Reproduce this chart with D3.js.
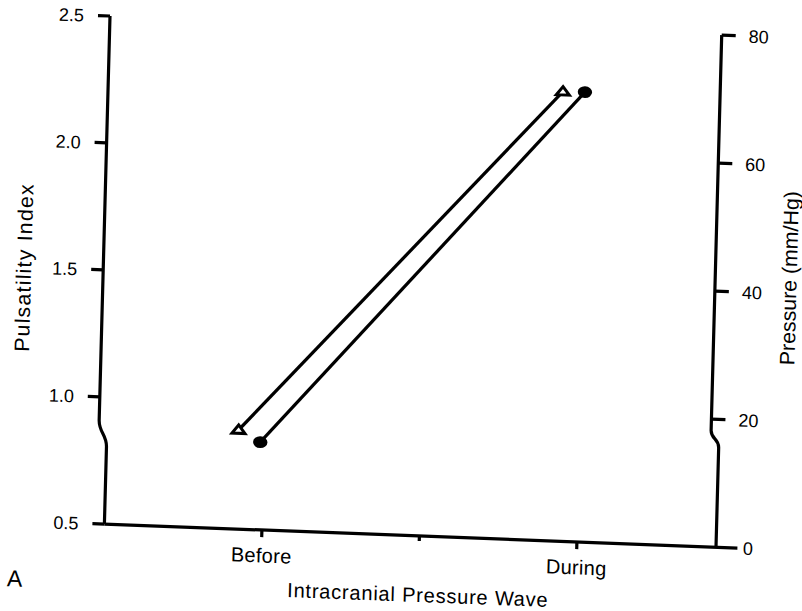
<!DOCTYPE html>
<html>
<head>
<meta charset="utf-8">
<script src="https://cdn.jsdelivr.net/npm/d3@7"></script>
<style>
  html, body { margin: 0; padding: 0; background: #fff; }
  svg { display: block; }
  text { font-family: "Liberation Sans", Arial, Helvetica, sans-serif; fill: #000; }
</style>
</head>
<body>
<svg id="chart" width="802" height="611"></svg>
<script>
// ---- data ----
const categories = ["Before", "During"];
const pulsatilityIndex = [0.89, 2.27];   // open triangles, left axis
const pressure = [13.7, 70.3];            // filled circles, right axis
const leftTicks = [0.5, 1.0, 1.5, 2.0, 2.5];
const leftTickLabels = ["0.5", "1.0", "1.5", "2.0", "2.5"];
const rightTicks = [0, 20, 40, 60, 80];
const rightTickLabels = ["0", "20", "40", "60", "80"];

// ---- layout (nominal frame, skewed like the scanned figure) ----
const svg = d3.select("#chart");
const g = svg.append("g").attr("transform", "matrix(1,0.038,-0.0272,1.0154,110,16)");

const W = 611.6;           // right axis position (upper segment)
const jog = 8;             // axis-break shift of lower segments
const base = 500;          // x-axis level

const x = d3.scalePoint().domain(categories).range([8, 638]).padding(0.5);
const yL = d3.scaleLinear().domain([0.5, 2.5]).range([base, 0]);
const yR = d3.scaleLinear().domain([0, 80]).range([base, -4]);

const ink = "#000";
const axW = 3.2;

// left axis with break
const lBreakTop = 398, lBreakBot = 424;
g.append("path")
  .attr("d", `M0,${yL(2.5)} L0,${lBreakTop} C0,${lBreakTop + 12} ${jog},${lBreakBot - 12} ${jog},${lBreakBot} L${jog},${base}`)
  .attr("fill", "none").attr("stroke", ink).attr("stroke-width", axW);

// right axis with break
const rBreakTop = 385, rBreakBot = 402;
g.append("path")
  .attr("d", `M${W},${yR(80)} L${W},${rBreakTop} C${W},${rBreakTop + 9} ${W + jog},${rBreakBot - 9} ${W + jog},${rBreakBot} L${W + jog},${base}`)
  .attr("fill", "none").attr("stroke", ink).attr("stroke-width", axW);

// x axis
g.append("line").attr("x1", jog).attr("x2", 641).attr("y1", base).attr("y2", base)
  .attr("stroke", ink).attr("stroke-width", axW);

// left ticks + labels
leftTicks.forEach((t, i) => {
  const v = yL(t);
  const ax = v > lBreakBot ? jog : 0;
  g.append("line").attr("x1", ax).attr("x2", ax - 12).attr("y1", v).attr("y2", v)
    .attr("stroke", ink).attr("stroke-width", axW);
  g.append("text").attr("x", ax - 26).attr("y", v).attr("dy", "0.36em")
    .attr("text-anchor", "end").attr("font-size", 18).text(leftTickLabels[i]);
});

// right ticks + labels
rightTicks.forEach((t, i) => {
  const v = yR(t);
  const ax = v > rBreakBot ? W + jog : W;
  if (t !== 0) {
    g.append("line").attr("x1", ax).attr("x2", ax + 14).attr("y1", v).attr("y2", v)
      .attr("stroke", ink).attr("stroke-width", axW);
  }
  g.append("text").attr("x", ax + 27).attr("y", v).attr("dy", "0.36em")
    .attr("text-anchor", "start").attr("font-size", 18).text(rightTickLabels[i]);
});

// x ticks + labels
const mid = (x(categories[0]) + x(categories[1])) / 2;
categories.forEach(c => {
  g.append("line").attr("x1", x(c)).attr("x2", x(c)).attr("y1", base).attr("y2", base + 7)
    .attr("stroke", ink).attr("stroke-width", axW);
  g.append("text").attr("x", x(c)).attr("y", base + 32).attr("text-anchor", "middle")
    .attr("font-size", 20).attr("letter-spacing", "0.3px").text(c);
});
g.append("line").attr("x1", mid).attr("x2", mid).attr("y1", base).attr("y2", base + 5)
  .attr("stroke", ink).attr("stroke-width", axW);

// axis titles
g.append("text").attr("x", mid).attr("y", base + 65).attr("text-anchor", "middle")
  .attr("font-size", 20).attr("letter-spacing", "0.8px").text("Intracranial Pressure Wave");
g.append("text").attr("transform", `translate(-72,250.6) rotate(-90)`).attr("text-anchor", "middle")
  .attr("font-size", 21).attr("letter-spacing", "1.2px").text("Pulsatility Index");
g.append("text").attr("transform", `translate(693,232.5) rotate(-90)`).attr("text-anchor", "middle")
  .attr("font-size", 21).text("Pressure (mm/Hg)");
g.append("text").attr("x", -88).attr("y", 565).attr("font-size", 23).text("A");

// series
const triDx = -26, circDx = -4;
const triPts = categories.map((c, i) => [x(c) + triDx, yL(pulsatilityIndex[i])]);
const circPts = categories.map((c, i) => [x(c) + circDx, yR(pressure[i])]);
const line = d3.line();

g.append("path").attr("d", line(triPts)).attr("fill", "none").attr("stroke", ink).attr("stroke-width", 3.2);
g.append("path").attr("d", line(circPts)).attr("fill", "none").attr("stroke", ink).attr("stroke-width", 3.2);

g.selectAll(".tri").data(triPts).join("path").attr("class", "tri")
  .attr("transform", d => `translate(${d[0]},${d[1]})`)
  .attr("d", "M0,-5 L6.5,3.2 L-6.5,3.2 Z")
  .attr("fill", "#fff").attr("stroke", ink).attr("stroke-width", 3).attr("stroke-linejoin", "miter");

g.selectAll(".circ").data(circPts).join("ellipse").attr("class", "circ")
  .attr("cx", d => d[0]).attr("cy", d => d[1]).attr("rx", 7.2).attr("ry", 5.8)
  .attr("fill", ink);
</script>
</body>
</html>
